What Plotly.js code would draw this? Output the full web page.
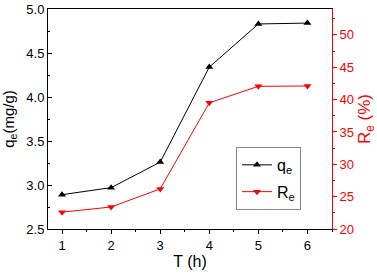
<!DOCTYPE html>
<html>
<head>
<meta charset="utf-8">
<script src="https://cdn.plot.ly/plotly-3.0.1.min.js"></script>
<style>html,body{margin:0;padding:0;background:#fff;}#chart{width:377px;height:275px;}</style>
</head>
<body>
<div id="chart"></div>
<script>
const timeH = [1, 2, 3, 4, 5, 6];
const qe = [2.89, 2.97, 3.26, 4.34, 4.83, 4.84];
const Re = [22.6, 23.4, 26.2, 39.5, 42.05, 42.1];

const font = 'Liberation Sans, Arial, sans-serif';

const traces = [
  {
    x: timeH, y: qe, name: 'q<sub>e</sub>', type: 'scatter', mode: 'lines+markers',
    legendgroup: 'a',
    line: {color: '#000000', width: 1},
    marker: {symbol: 'triangle-up', size: 7, color: '#000000'},
    yaxis: 'y'
  },
  {
    x: timeH, y: Re, name: 'R<sub>e</sub>', type: 'scatter', mode: 'lines+markers',
    legendgroup: 'b',
    line: {color: '#ff0000', width: 1},
    marker: {symbol: 'triangle-down', size: 7, color: '#ff0000'},
    yaxis: 'y2'
  }
];

const layout = {
  width: 377, height: 275,
  margin: {l: 48, r: 45, t: 9, b: 46},
  paper_bgcolor: '#ffffff', plot_bgcolor: '#ffffff',
  font: {family: font, size: 13, color: '#000000'},
  showlegend: true,
  legend: {
    x: 0.662, y: 0.373, xanchor: 'left', yanchor: 'top',
    bgcolor: '#ffffff', bordercolor: '#888888', borderwidth: 1,
    font: {family: font, size: 16, color: '#000000'},
    tracegroupgap: 3
  },
  xaxis: {
    range: [0.714, 6.5], tickmode: 'array', tickvals: timeH, ticktext: timeH.map(String),
    showgrid: false, zeroline: false,
    showline: true, linecolor: '#000000', linewidth: 1, mirror: true,
    ticks: 'outside', ticklen: 4, tickwidth: 1, tickcolor: '#000000',
    minor: {dtick: 0.5, tick0: 0.5, ticks: 'outside', ticklen: 2, tickcolor: '#000000'},
    tickfont: {family: font, size: 13, color: '#000000'},
    title: {text: 'T (h)', font: {family: font, size: 16, color: '#000000'}, standoff: 4}
  },
  yaxis: {
    range: [2.5, 5.0], dtick: 0.5, tick0: 2.5, tickformat: '.1f',
    showgrid: false, zeroline: false,
    showline: true, linecolor: '#000000', linewidth: 1,
    ticks: 'inside', ticklen: 4, tickwidth: 1, tickcolor: '#000000',
    minor: {dtick: 0.25, ticks: 'inside', ticklen: 2, tickcolor: '#000000'},
    tickfont: {family: font, size: 13, color: '#000000'},
    title: {text: 'q<sub>e</sub>(mg/g)', font: {family: font, size: 15, color: '#000000'}, standoff: 9}
  },
  yaxis2: {
    overlaying: 'y', side: 'right',
    range: [20, 54], dtick: 5, tick0: 20,
    showgrid: false, zeroline: false,
    showline: true, linecolor: '#ff0000', linewidth: 1,
    ticks: 'outside', ticklen: 4, tickwidth: 1, tickcolor: '#ff0000',
    minor: {dtick: 2.5, ticks: 'outside', ticklen: 2, tickcolor: '#ff0000'},
    tickfont: {family: font, size: 13, color: '#ff0000'},
    title: {text: 'R<sub>e</sub> (%)', font: {family: font, size: 17, color: '#ff0000'}, standoff: 5}
  }
};

Plotly.newPlot('chart', traces, layout, {displayModeBar: false, staticPlot: true});
</script>
</body>
</html>
